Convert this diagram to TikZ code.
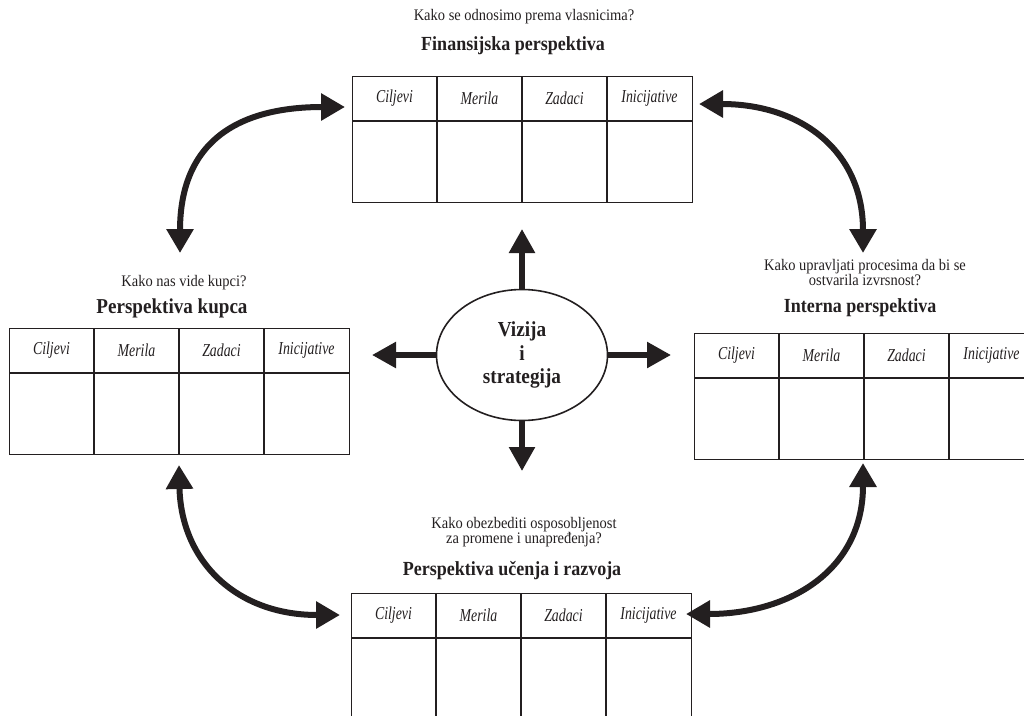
\documentclass[tikz,border=0pt]{standalone}
\usepackage{fontspec}
\setmainfont{Liberation Serif}
\newfontfamily\narrowSerif[FakeStretch = 0.9]{Liberation Serif}
\newfontfamily\headSerif[FakeStretch = 0.76]{Liberation Serif}
\usetikzlibrary{arrows.meta}
\usetikzlibrary{shapes.geometric}
\usetikzlibrary{calc}
\definecolor{ink}{HTML}{231F20}

\begin{document}
\begin{tikzpicture}[x = 1pt, y = -1pt, color = ink]
	\tikzstyle{tableStyle} = [draw, line width = 1.2pt, minimum width = 340pt, minimum height = 126pt, inner sep = 0pt, anchor = north west]
	\tikzstyle{gridStyle} = [line width = 1.1pt]
	\tikzstyle{headStyle} = [font = \headSerif\fontsize{18.2}{20}\selectfont\itshape, inner sep = 1pt]
	\tikzstyle{askStyle} = [font = \narrowSerif\fontsize{16.1}{15}\selectfont, align = center, inner sep = 0pt]
	\tikzstyle{titleStyle} = [font = \narrowSerif\fontsize{20}{22}\selectfont\bfseries, inner sep = 0pt]
	\tikzstyle{visionStyle} = [shape = ellipse, draw, line width = 1.6pt, minimum width = 171pt, minimum height = 131pt, inner sep = 0pt, align = center, font = \narrowSerif\fontsize{21.4}{23.5}\selectfont\bfseries]
	\tikzstyle{pushStyle} = [line width = 5.5pt, -{Triangle[length = 24pt, width = 25pt]}]
	\tikzstyle{linkStyle} = [line width = 6pt, {Triangle[length = 24pt, width = 26pt]}-{Triangle[length = 24pt, width = 26pt]}]
	\useasboundingbox (0,0) rectangle (1024,715);
	\clip (0,0) rectangle (1024,715);
	% the four perspectives
	\node[tableStyle] (fin) at (352,76) {};
	\node[tableStyle] (kup) at (9,328) {};
	\node[tableStyle] (int) at (694,333) {};
	\node[tableStyle] (ucn) at (351,593) {};
	\foreach \t in {fin, kup, int, ucn} {
		\draw[gridStyle] ($(\t.north west)+(0,45)$) -- ($(\t.north east)+(0,45)$);
		\foreach \k in {1,2,3}
			\draw[gridStyle] ($(\t.north west)+(85*\k,0)$) -- ($(\t.south west)+(85*\k,0)$);
		\foreach \lbl [count = \k from 0] in {Ciljevi, Merila, Zadaci, Inicijative}
			\node[headStyle] (\t-h\k) at ($(\t.north west)+(42.5+85*\k,22)$) {\lbl};
	}
	\node[askStyle] (finAsk) at (524,17) {Kako se odnosimo prema vlasnicima?};
	\node[titleStyle] (finTitle) at (513,46) {Finansijska perspektiva};
	\node[askStyle] (kupAsk) at (184,283) {Kako nas vide kupci?};
	\node[titleStyle, font = \narrowSerif\fontsize{21.2}{22}\selectfont\bfseries] (kupTitle) at (172,308) {Perspektiva kupca};
	\node[askStyle] (intAsk) at (865,273) {Kako upravljati procesima da bi se\\ostvarila izvrsnost?};
	\node[titleStyle] (intTitle) at (860,308) {Interna perspektiva};
	\node[askStyle] (ucnAsk) at (524,532) {Kako obezbediti osposobljenost\\za promene i unapređenja?};
	\node[titleStyle] (ucnTitle) at (512,571) {Perspektiva učenja i razvoja};
	% vision in the middle
	\node[visionStyle] (vis) at (522,355) {Vizija\\i\\strategija};
	\coordinate (visN) at (522,229);
	\coordinate (visS) at (522,471);
	\coordinate (visW) at (372,355);
	\coordinate (visE) at (671,355);
	\draw[pushStyle] (vis) -- (visN);
	\draw[pushStyle] (vis) -- (visS);
	\draw[pushStyle] (vis) -- (visW);
	\draw[pushStyle] (vis) -- (visE);
	% links between the perspectives
	\coordinate (finW) at (345,107);
	\coordinate (finE) at (699,104);
	\coordinate (kupN) at (180,253);
	\coordinate (kupS) at (179,465);
	\coordinate (intN) at (863,253);
	\coordinate (intS) at (863,463);
	\coordinate (ucnW) at (340,615);
	\coordinate (ucnE) at (686,614);
	\draw[linkStyle] (kupN) .. controls (180,140) and (240,107) .. (finW);
	\draw[linkStyle] (finE) .. controls (800,104) and (863,150) .. (intN);
	\draw[linkStyle] (kupS) .. controls (181,560) and (235,615) .. (ucnW);
	\draw[linkStyle] (intS) .. controls (863,570) and (790,614) .. (ucnE);
\end{tikzpicture}
\end{document}
